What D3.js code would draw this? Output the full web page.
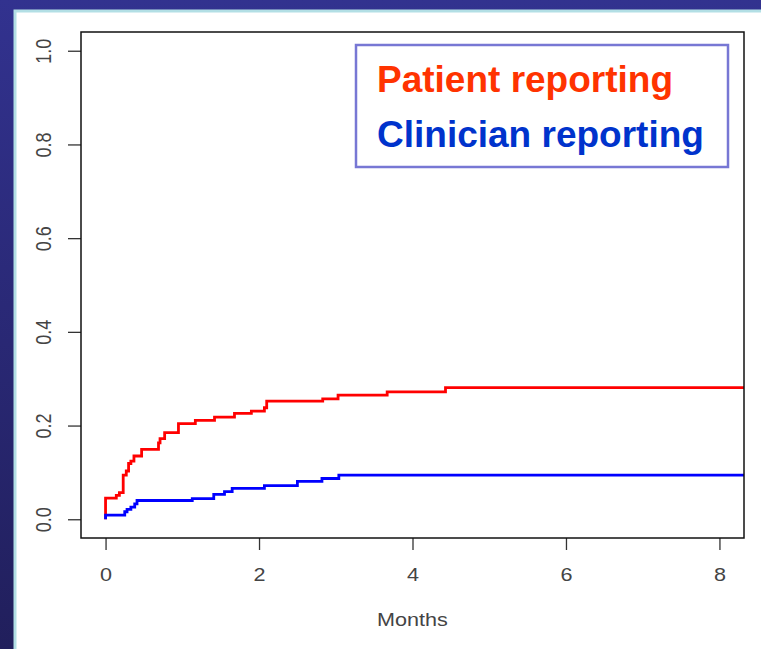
<!DOCTYPE html>
<html>
<head>
<meta charset="utf-8">
<script src="https://cdn.jsdelivr.net/npm/d3@7"></script>
<style>
  html, body { margin: 0; padding: 0; background: #2a2a80; }
  svg { display: block; }
</style>
</head>
<body>
<svg id="chart" width="761" height="649"></svg>
<script>
// ---- data ----
const xTicks = [0, 2, 4, 6, 8];
const yTicks = [0.0, 0.2, 0.4, 0.6, 0.8, 1.0];
const yTickLabels = ["0.0", "0.2", "0.4", "0.6", "0.8", "1.0"];
const xTitle = "Months";
const seriesNames = ["Patient reporting", "Clinician reporting"];
const followUpEnd = 8.32;

const patientTimes  = [0, 0, 0.14, 0.18, 0.23, 0.27, 0.30, 0.33, 0.37, 0.47, 0.69, 0.71, 0.77, 0.95, 1.17, 1.42, 1.68, 1.90, 2.07, 2.10, 2.83, 3.03, 3.67, 4.43];
const patientValues = [0, 0.045, 0.051, 0.057, 0.094, 0.103, 0.119, 0.124, 0.135, 0.149, 0.163, 0.172, 0.185, 0.204, 0.211, 0.218, 0.226, 0.231, 0.238, 0.252, 0.257, 0.265, 0.272, 0.281];

const clinicianTimes  = [0, 0, 0.25, 0.28, 0.33, 0.38, 0.41, 1.13, 1.41, 1.55, 1.65, 2.07, 2.50, 2.82, 3.04];
const clinicianValues = [0, 0.009, 0.016, 0.021, 0.026, 0.033, 0.040, 0.044, 0.053, 0.059, 0.066, 0.072, 0.081, 0.087, 0.094];

// ---- layout ----
const svg = d3.select("#chart");
const W = 761, H = 649;
const plot = { left: 81, right: 744, top: 32, bottom: 538 };

// background
const defs = svg.append("defs");
const grad = defs.append("linearGradient").attr("id", "bg").attr("x1", 0).attr("y1", 0).attr("x2", 0).attr("y2", 1);
grad.append("stop").attr("offset", "0%").attr("stop-color", "#32328f");
grad.append("stop").attr("offset", "100%").attr("stop-color", "#211f5c");
svg.append("rect").attr("width", W).attr("height", H).attr("fill", "url(#bg)");
svg.append("rect").attr("x", 13.5).attr("y", 9.5).attr("width", W).attr("height", H).attr("fill", "#b3dfe5");
svg.append("rect").attr("x", 16.5).attr("y", 12.5).attr("width", W).attr("height", H).attr("fill", "#ffffff");

const x = d3.scaleLinear().domain([-0.32, followUpEnd]).range([plot.left, plot.right]);
const y = d3.scaleLinear().domain([-0.04, 1.04]).range([plot.bottom, plot.top]);

const clipId = "plotclip";
defs.append("clipPath").attr("id", clipId).append("rect")
  .attr("x", plot.left).attr("y", plot.top)
  .attr("width", plot.right - plot.left).attr("height", plot.bottom - plot.top);

const axisColor = "#444";

// axes (R style)
const xAxis = d3.axisBottom(x).tickValues(xTicks).tickSize(12).tickPadding(0).tickFormat(d3.format("d"));
const gx = svg.append("g").attr("transform", `translate(0,${plot.bottom})`).call(xAxis);
gx.select(".domain").remove();
gx.selectAll(".tick line").attr("stroke", "#333").attr("stroke-width", 1.3);
gx.selectAll(".tick text").remove();
gx.selectAll(".tick").append("text")
  .attr("transform", "translate(0,43) scale(1.2,1)")
  .attr("text-anchor", "middle")
  .attr("fill", axisColor)
  .style("font-family", "'Liberation Sans', Arial, sans-serif")
  .style("font-size", "18px")
  .text(d => d3.format("d")(d));

const yAxis = d3.axisLeft(y).tickValues(yTicks).tickSize(13).tickFormat((d, i) => yTickLabels[i]);
const gy = svg.append("g").attr("transform", `translate(${plot.left},0)`).call(yAxis);
gy.select(".domain").remove();
gy.selectAll(".tick line").attr("stroke", "#333").attr("stroke-width", 1.3);
gy.selectAll(".tick text").remove();
gy.selectAll(".tick").append("text")
  .attr("transform", "translate(-30,0) scale(1.2,1) rotate(-90)")
  .attr("text-anchor", "middle")
  .attr("fill", axisColor)
  .style("font-family", "'Liberation Sans', Arial, sans-serif")
  .style("font-size", "18px")
  .text((d, i) => yTickLabels[i]);

// x title
svg.append("text")
  .attr("transform", `translate(${(plot.left + plot.right) / 2},${626}) scale(1.2,1)`)
  .attr("text-anchor", "middle")
  .attr("fill", axisColor)
  .style("font-family", "'Liberation Sans', Arial, sans-serif")
  .style("font-size", "18px")
  .text(xTitle);

// curves
function series(times, values) {
  const pts = times.map((t, i) => [t, values[i]]);
  pts.push([followUpEnd, values[values.length - 1]]);
  return pts;
}
const line = d3.line().x(d => x(d[0])).y(d => y(d[1])).curve(d3.curveStepAfter);
const gLines = svg.append("g").attr("clip-path", `url(#${clipId})`);
gLines.append("path").datum(series(patientTimes, patientValues))
  .attr("d", line).attr("fill", "none").attr("stroke", "#ff0000").attr("stroke-width", 2.8);
gLines.append("path").datum(series(clinicianTimes, clinicianValues))
  .attr("d", line).attr("fill", "none").attr("stroke", "#0000ff").attr("stroke-width", 2.8);

// box
svg.append("rect")
  .attr("x", plot.left).attr("y", plot.top)
  .attr("width", plot.right - plot.left).attr("height", plot.bottom - plot.top)
  .attr("fill", "none").attr("stroke", "#111").attr("stroke-width", 1.5);

// legend
svg.append("rect").attr("x", 356).attr("y", 45).attr("width", 372).attr("height", 122)
  .attr("fill", "#ffffff").attr("stroke", "#7777d4").attr("stroke-width", 2.5);
const legendColors = ["#ff3300", "#0033cc"];
svg.selectAll(".leg").data(seriesNames).enter().append("text")
  .attr("x", 377).attr("y", (d, i) => 92 + i * 55)
  .attr("fill", (d, i) => legendColors[i])
  .style("font-family", "'Liberation Sans', Arial, sans-serif")
  .style("font-weight", "bold")
  .style("font-size", "37px")
  .text(d => d);
</script>
</body>
</html>
